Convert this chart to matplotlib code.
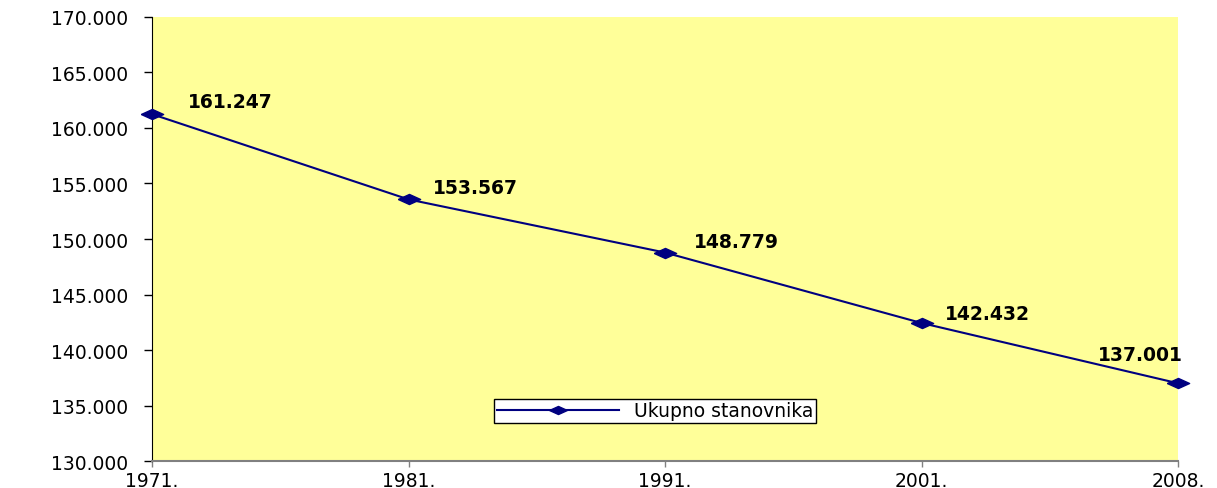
import numpy as np
import matplotlib
matplotlib.use('Agg')
from matplotlib import pyplot as plt
from matplotlib.ticker import FuncFormatter

years = ['1971.', '1981.', '1991.', '2001.', '2008.']
population = [161247, 153567, 148779, 142432, 137001]
point_labels = ['161.247', '153.567', '148.779', '142.432', '137.001']
series_name = 'Ukupno stanovnika'

plt.rcParams['font.family'] = ['DejaVu Sans']

fig = plt.figure(figsize=(12.17, 4.89), dpi=100)
ax = fig.add_axes([0.1249, 0.0552, 0.8431, 0.908])
ax.set_facecolor('#FFFF99')

x = np.arange(len(years))
# wide diamond marker, like the stretched excel one
diamond = [(-1.1, 0), (0, 0.5), (1.1, 0), (0, -0.5), (-1.1, 0)]
ax.plot(x, population, color='#000080', lw=1.5, marker=diamond,
        markersize=16, markerfacecolor='#000080', markeredgecolor='#000080',
        label=series_name, clip_on=False, zorder=3)

# data labels, offset in pixels (last one sits left of the point)
offsets = [(36, 13), (24, 12), (29, 11), (23, 10), (-80, 29)]
for xi, yi, txt, (dx, dy) in zip(x, population, point_labels, offsets):
    ax.annotate(txt, (xi, yi), xytext=(dx * 0.72, dy * 0.72),
                textcoords='offset points', ha='left', va='center',
                fontsize=13.5, fontweight='bold', color='black')

ax.set_xlim(0, len(years) - 1)
ax.set_ylim(130000, 170000)
ax.set_yticks(np.arange(130000, 170001, 5000))
ax.yaxis.set_major_formatter(FuncFormatter(lambda v, p: '{:,.0f}'.format(v).replace(',', '.')))
ax.set_xticks(x)
ax.set_xticklabels(years)

ax.tick_params(axis='y', direction='out', length=6, width=1, labelsize=13.5,
               pad=11, colors='black')
ax.tick_params(axis='x', direction='out', length=4, width=1, labelsize=13.5,
               pad=3, color='gray', labelcolor='black')

for s in ['top', 'right']:
    ax.spines[s].set_visible(False)
ax.spines['left'].set_color('black')
ax.spines['bottom'].set_color('gray')
ax.spines['bottom'].set_linewidth(1.5)

leg = ax.legend(loc='center', bbox_to_anchor=(0.49, 0.113), fontsize=13.5,
                frameon=True, fancybox=False, edgecolor='black',
                framealpha=1, borderpad=0.15, handlelength=6.5,
                borderaxespad=0, markerscale=0.8)
leg.get_frame().set_linewidth(1)

fig.savefig('out.png', dpi=100)
